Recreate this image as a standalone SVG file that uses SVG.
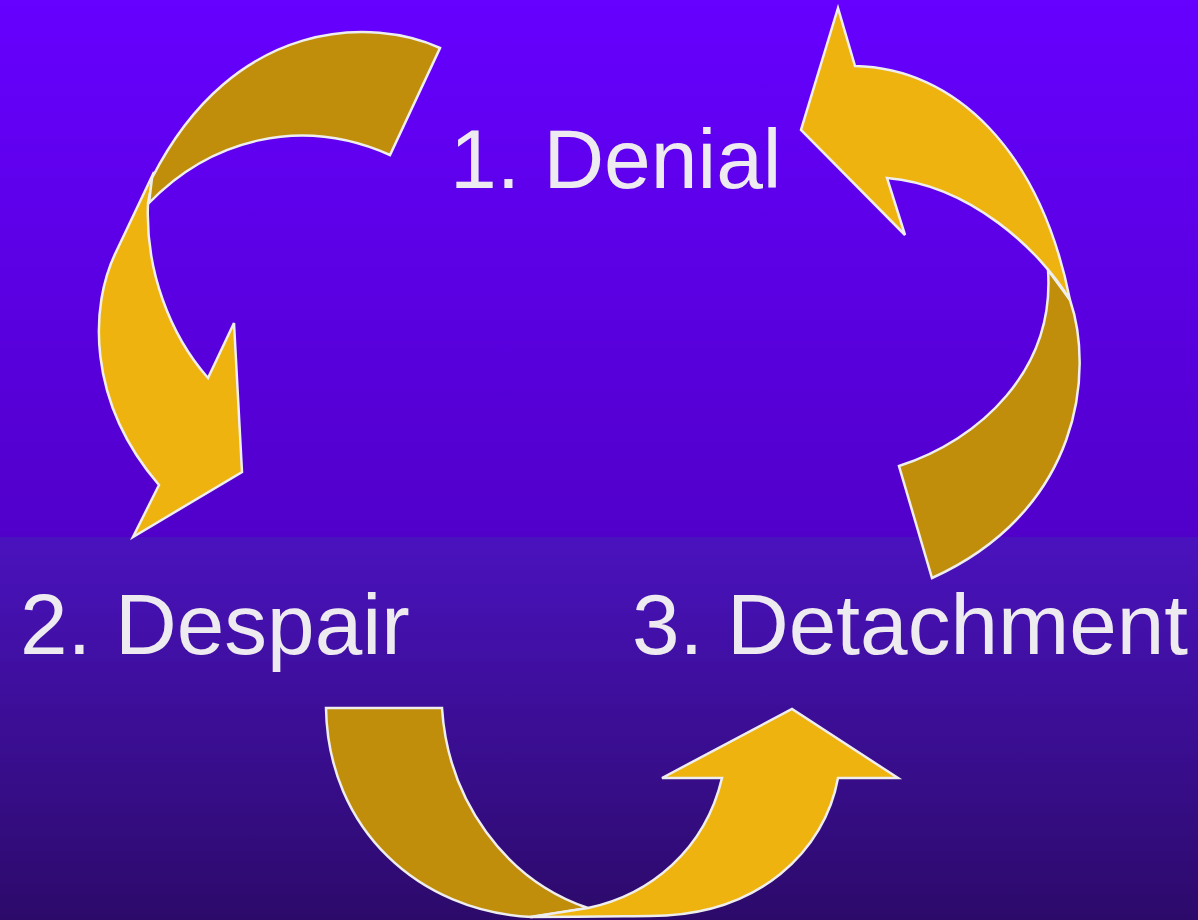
<svg xmlns="http://www.w3.org/2000/svg" width="1198" height="920" viewBox="0 0 1198 920">
<defs>
<linearGradient id="bgTop" x1="0" y1="0" x2="0" y2="1">
<stop offset="0" stop-color="#6600FF"/>
<stop offset="1" stop-color="#5100CA"/>
</linearGradient>
<linearGradient id="bgBot" x1="0" y1="0" x2="0" y2="1">
<stop offset="0" stop-color="#4A12BE"/>
<stop offset="1" stop-color="#2C0A6A"/>
</linearGradient>
<style>
.lbl{font-family:"Liberation Sans",Arial,sans-serif;font-size:85.5px;fill:#EDEBF0}
.yel{fill:#EEB30E;stroke:#EEEEEE;stroke-width:2.5;stroke-linejoin:miter}
.drk{fill:#C08E0A;stroke:#EEEEEE;stroke-width:2.5;stroke-linejoin:miter}
</style>
</defs>
<rect x="0" y="0" width="1198" height="537" fill="url(#bgTop)"/>
<rect x="0" y="537" width="1198" height="383" fill="url(#bgBot)"/>
<g id="connectors">
<g id="arrow-denial-to-despair">
<path class="yel" d="M154,172 L116,252 C90,305 86,400 159,485 L133,537 L242,472 L234,323 L208,378 C170,335 145,270 148,203 Z"/>
<path class="drk" d="M440,48 C375,18 235,15 152,178 L149,203 C210,140 300,115 390,155 Z"/>
</g>
<g id="arrow-despair-to-detachment">
<path class="drk" d="M326,708 L442,708 C448,800 505,880 588,908 L532,917 C420,912 328,830 326,708 Z"/>
<path class="yel" d="M530,917 C600,917 630,916 650,916 C760,916 825,850 838,778 L898,778 L792,709 L662,778 L722,778 C705,850 650,895 588,908 Z"/>
</g>
<g id="arrow-detachment-to-denial">
<path class="drk" d="M1048,270 L1070,300 C1094,370 1082,510 932,578 L899,466 C980,440 1055,370 1048,270 Z"/>
<path class="yel" d="M838,8 L855,66 C955,68 1040,150 1070,300 C1040,250 970,185 887,178 L905,235 L801,130 Z"/>
</g>
</g>
<g id="node-denial"><text class="lbl" x="450" y="188" style="font-size:84px">1. Denial</text></g>
<g id="node-despair"><text class="lbl" x="20" y="654">2. Despair</text></g>
<g id="node-detachment"><text class="lbl" x="632" y="654">3. Detachment</text></g>
</svg>
